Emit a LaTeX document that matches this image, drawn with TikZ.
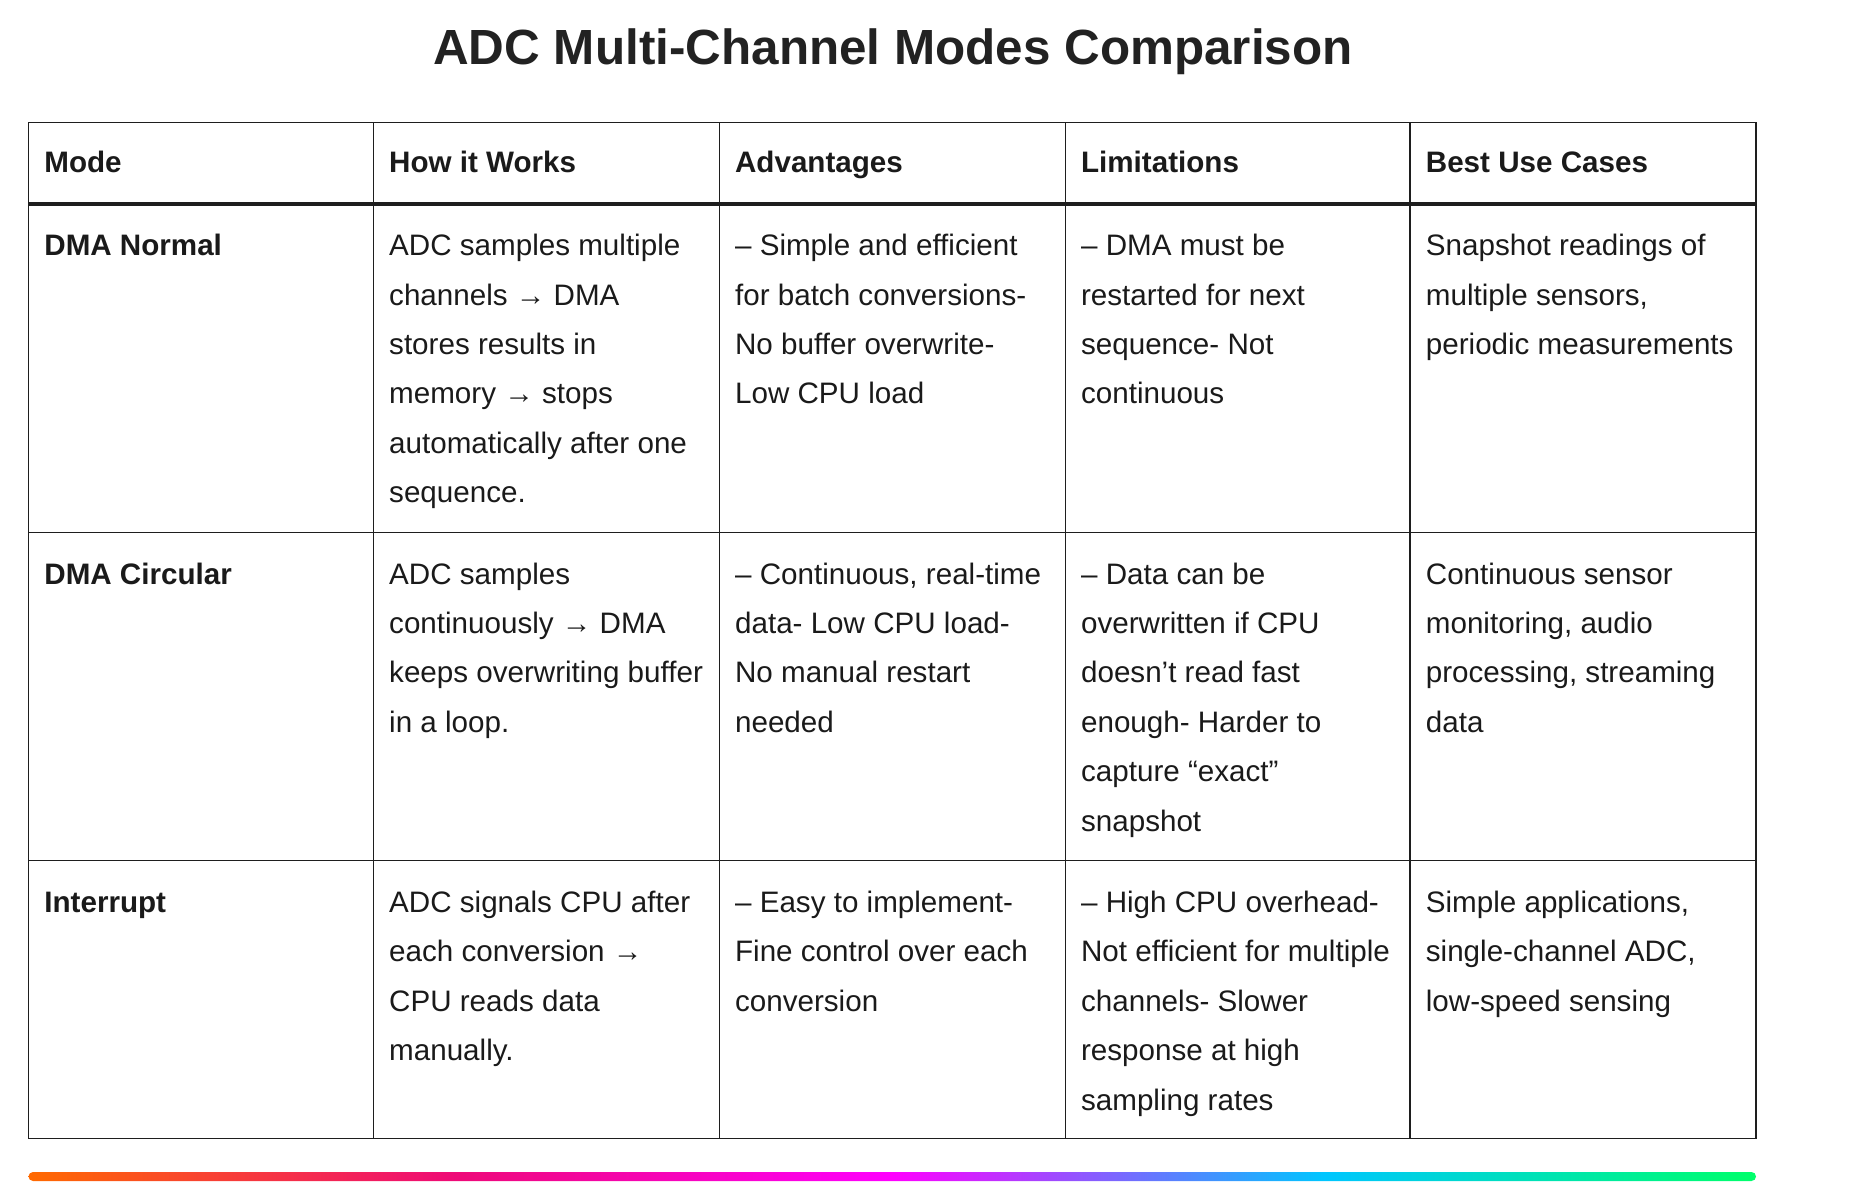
\documentclass[tikz,border=0pt]{standalone}
\usepackage{fontspec}
\setmainfont{Liberation Sans}
\definecolor{txt}{HTML}{1A1A1A}
\definecolor{titlecol}{HTML}{222222}
\definecolor{rulecol}{HTML}{1E1E1E}
\definecolor{gA}{HTML}{FF6A00}
\definecolor{gB}{HTML}{EE0979}
\definecolor{gC}{HTML}{FF00FF}
\definecolor{gD}{HTML}{00C6FF}
\definecolor{gE}{HTML}{00FF6A}
\pgfdeclarehorizontalshading{rainbowbar}{100bp}{color(0bp)=(gA); color(25bp)=(gA); color(37.5bp)=(gB); color(50bp)=(gC); color(62.5bp)=(gD); color(75bp)=(gE); color(100bp)=(gE)}
\newcommand{\cellbox}[1]{\parbox[t]{330pt}{\raggedright #1}}
\begin{document}
\begin{tikzpicture}[x=1pt,y=-1pt,
  cell/.style={anchor=base west, inner sep=0pt, text=txt, font=\fontsize{29.6}{49.4}\selectfont},
  boldcell/.style={cell, font=\fontsize{29.6}{49.4}\selectfont\bfseries},
  gridline/.style={draw=rulecol, line width=1.15pt},
  headrule/.style={draw=rulecol, line width=3.6pt}]
\useasboundingbox (0,0) rectangle (1864,1198);

% title
\node[anchor=base, inner sep=0pt, text=titlecol, font=\fontsize{49.4}{60}\selectfont\bfseries] (title) at (893,65) {ADC Multi-Channel Modes Comparison};

% grid
\draw[gridline] (28.5,122.3) rectangle (1756,1138.3);
\foreach \x in {373.3,719.2,1065.2,1410} \draw[gridline] (\x,122.3) -- (\x,1138.3);
\draw[gridline] (28.5,532.3) -- (1756,532.3);
\draw[gridline] (28.5,860.7) -- (1756,860.7);
\draw[headrule] (28.5,204) -- (1756,204);

% header
\node[boldcell] (h1) at (44.2,172.2) {Mode};
\node[boldcell] (h2) at (389,172.2) {How it Works};
\node[boldcell] (h3) at (734.9,172.2) {Advantages};
\node[boldcell] (h4) at (1080.9,172.2) {Limitations};
\node[boldcell] (h5) at (1425.7,172.2) {Best Use Cases};

% row 1
\node[boldcell] (r1c1) at (44.2,255.7) {DMA Normal};
\node[cell] (r1c2) at (389,255.7) {\cellbox{ADC samples multiple\\channels → DMA\\stores results in\\memory → stops\\automatically after one\\sequence.}};
\node[cell] (r1c3) at (734.9,255.7) {\cellbox{– Simple and efficient\\for batch conversions-\\No buffer overwrite-\\Low CPU load}};
\node[cell] (r1c4) at (1080.9,255.7) {\cellbox{– DMA must be\\restarted for next\\sequence- Not\\continuous}};
\node[cell] (r1c5) at (1425.7,255.7) {\cellbox{Snapshot readings of\\multiple sensors,\\periodic measurements}};

% row 2
\node[boldcell] (r2c1) at (44.2,584) {DMA Circular};
\node[cell] (r2c2) at (389,584) {\cellbox{ADC samples\\continuously → DMA\\keeps overwriting buffer\\in a loop.}};
\node[cell] (r2c3) at (734.9,584) {\cellbox{– Continuous, real-time\\data- Low CPU load-\\No manual restart\\needed}};
\node[cell] (r2c4) at (1080.9,584) {\cellbox{– Data can be\\overwritten if CPU\\doesn’t read fast\\enough- Harder to\\capture “exact”\\snapshot}};
\node[cell] (r2c5) at (1425.7,584) {\cellbox{Continuous sensor\\monitoring, audio\\processing, streaming\\data}};

% row 3
\node[boldcell] (r3c1) at (44.2,912.4) {Interrupt};
\node[cell] (r3c2) at (389,912.4) {\cellbox{ADC signals CPU after\\each conversion →\\CPU reads data\\manually.}};
\node[cell] (r3c3) at (734.9,912.4) {\cellbox{– Easy to implement-\\Fine control over each\\conversion}};
\node[cell] (r3c4) at (1080.9,912.4) {\cellbox{– High CPU overhead-\\Not efficient for multiple\\channels- Slower\\response at high\\sampling rates}};
\node[cell] (r3c5) at (1425.7,912.4) {\cellbox{Simple applications,\\single-channel ADC,\\low-speed sensing}};

% gradient bar
\shade[shading=rainbowbar, rounded corners=4.5pt] (28.5,1172) rectangle (1756,1181);
\end{tikzpicture}
\end{document}
